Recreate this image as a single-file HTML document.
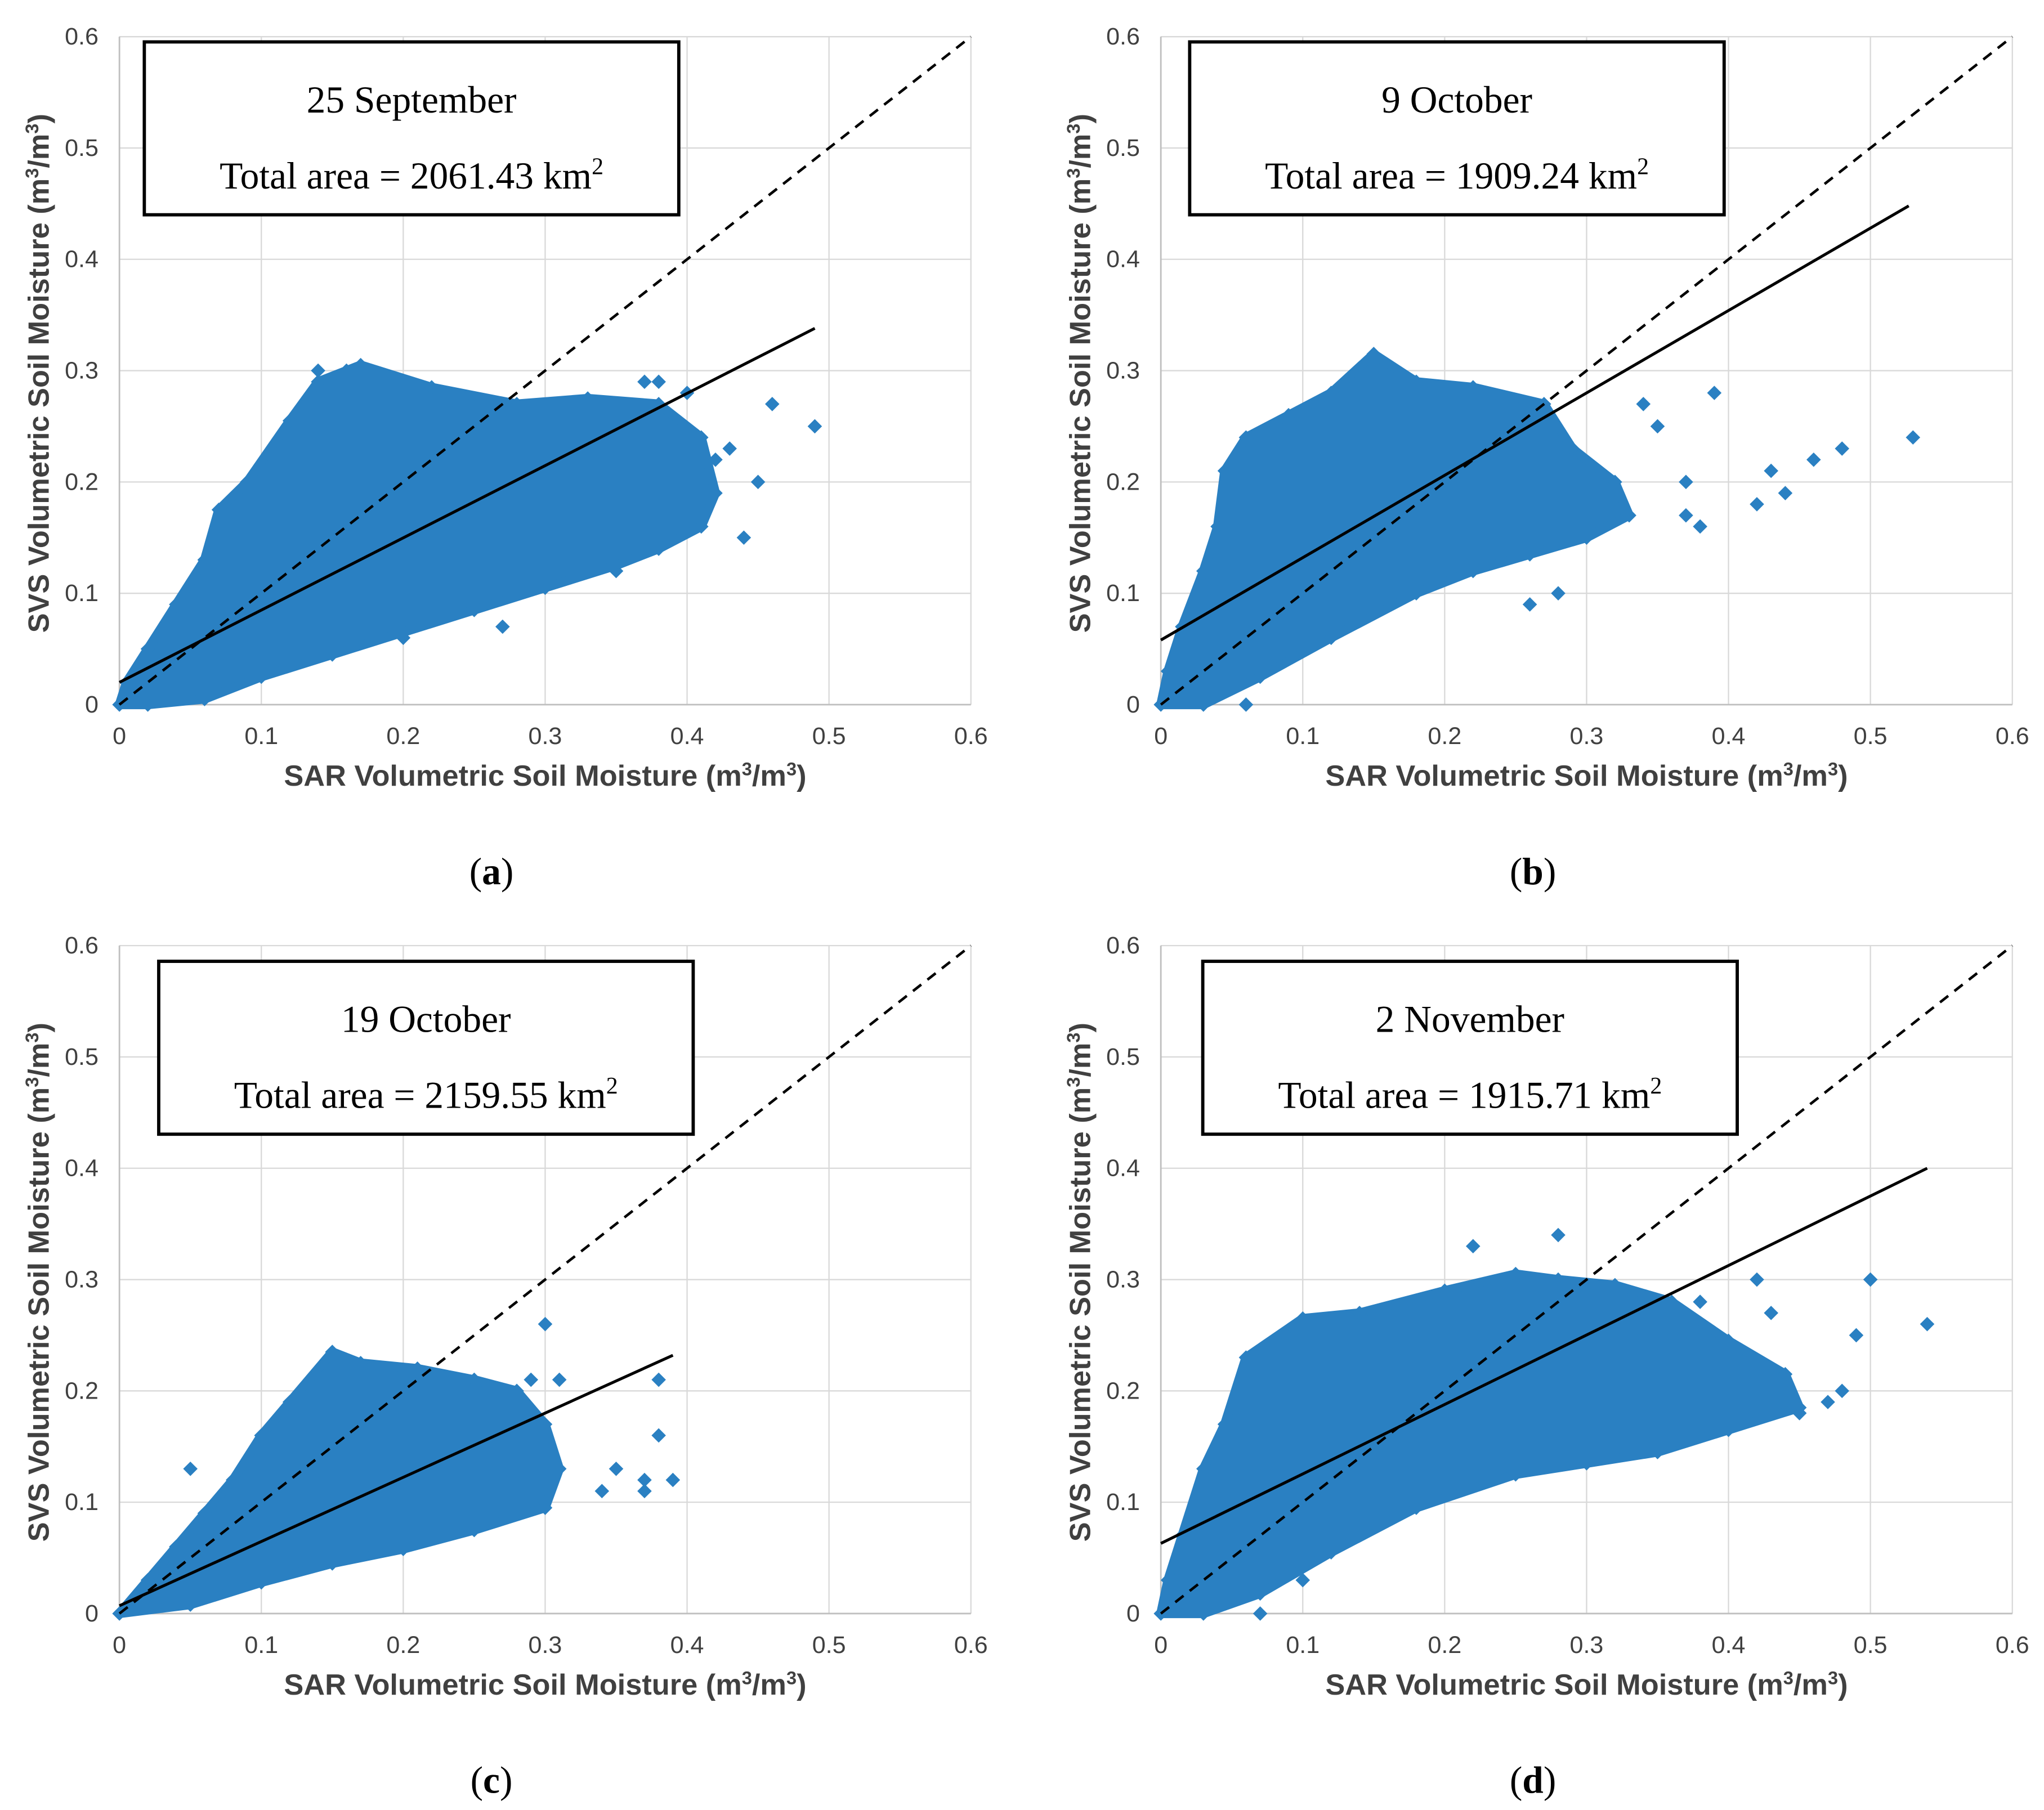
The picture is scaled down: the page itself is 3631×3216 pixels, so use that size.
<!DOCTYPE html>
<html><head><meta charset="utf-8"><style>
html,body{margin:0;padding:0;background:#fff;}
svg{display:block;}
</style></head><body>
<svg id="fig" width="3631" height="3216" viewBox="0 0 1560 1382" xmlns="http://www.w3.org/2000/svg"></svg>
<script>
const ticks = [0,0.1,0.2,0.3,0.4,0.5,0.6];
const tickLabels = ["0","0.1","0.2","0.3","0.4","0.5","0.6"];
const panelIds = ["a","b","c","d"];
const panelDates = ["25 September","9 October","19 October","2 November"];
const panelAreas = ["2061.43","1909.24","2159.55","1915.71"];
const fitA = [[0,0.02],[0.49,0.338]];
const fitB = [[0,0.058],[0.527,0.448]];
const fitC = [[0,0.007],[0.39,0.232]];
const fitD = [[0,0.063],[0.54,0.4]];
const cloudA = [[0,0],[0.02,0],[0.06,0.005],[0.1,0.025],[0.15,0.045],[0.2,0.065],[0.25,0.085],[0.3,0.105],[0.35,0.125],[0.38,0.14],[0.41,0.16],[0.42,0.19],[0.41,0.24],[0.38,0.27],[0.33,0.275],[0.28,0.27],[0.22,0.285],[0.17,0.305],[0.14,0.29],[0.12,0.255],[0.09,0.2],[0.07,0.175],[0.06,0.13],[0.04,0.09],[0.02,0.05],[0.005,0.02]];
const cloudB = [[0,0],[0.03,0],[0.07,0.025],[0.12,0.06],[0.18,0.1],[0.22,0.12],[0.26,0.135],[0.3,0.15],[0.33,0.17],[0.32,0.2],[0.29,0.23],[0.27,0.27],[0.22,0.285],[0.18,0.29],[0.15,0.315],[0.12,0.28],[0.09,0.26],[0.06,0.24],[0.045,0.21],[0.04,0.16],[0.03,0.12],[0.015,0.07],[0.005,0.03]];
const cloudC = [[0,0],[0.05,0.008],[0.1,0.028],[0.15,0.045],[0.2,0.058],[0.25,0.075],[0.3,0.095],[0.31,0.13],[0.3,0.17],[0.28,0.2],[0.25,0.21],[0.21,0.22],[0.17,0.225],[0.15,0.235],[0.12,0.19],[0.1,0.16],[0.08,0.12],[0.06,0.09],[0.04,0.06],[0.02,0.03]];
const cloudD = [[0,0],[0.03,0],[0.07,0.018],[0.12,0.055],[0.18,0.095],[0.25,0.125],[0.3,0.135],[0.35,0.145],[0.4,0.165],[0.45,0.185],[0.44,0.215],[0.4,0.245],[0.36,0.28],[0.32,0.295],[0.28,0.3],[0.25,0.305],[0.2,0.29],[0.14,0.27],[0.1,0.265],[0.06,0.23],[0.045,0.17],[0.03,0.13],[0.015,0.07],[0.005,0.03]];
const outA = [[0.44,0.15],[0.46,0.27],[0.49,0.25],[0.45,0.2],[0.43,0.23],[0.38,0.29],[0.27,0.07],[0.2,0.06],[0.35,0.12],[0.37,0.29],[0.4,0.28],[0.42,0.22],[0.16,0.3],[0.14,0.3]];
const outB = [[0.35,0.25],[0.37,0.2],[0.38,0.16],[0.39,0.28],[0.42,0.18],[0.44,0.19],[0.46,0.22],[0.48,0.23],[0.53,0.24],[0.43,0.21],[0.28,0.1],[0.26,0.09],[0.06,0],[0.37,0.17],[0.34,0.27],[0.3,0.21],[0.32,0.19]];
const outC = [[0.3,0.26],[0.31,0.21],[0.35,0.13],[0.37,0.12],[0.38,0.21],[0.38,0.16],[0.39,0.12],[0.37,0.11],[0.34,0.11],[0.05,0.13],[0.29,0.21]];
const outD = [[0.5,0.3],[0.54,0.26],[0.49,0.25],[0.48,0.2],[0.28,0.34],[0.22,0.33],[0.07,0],[0.1,0.03],[0.42,0.3],[0.45,0.18],[0.47,0.19],[0.43,0.27],[0.38,0.28]];
const fits=[fitA,fitB,fitC,fitD], clouds=[cloudA,cloudB,cloudC,cloudD], outs=[outA,outB,outC,outD];
const origins=[[91,538],[886,538],[91,1232],[886,1232]];
const boxes=[[110,32],[908,32],[121,734],[918,734]];
const NS="http://www.w3.org/2000/svg";
const svg=document.getElementById('fig');
function mk(tag,attrs,parent){const e=document.createElementNS(NS,tag);for(const k in attrs)e.setAttribute(k,attrs[k]);(parent||svg).appendChild(e);return e;}
const W=650,H=510,MAX=0.6;
const BLUE="#2a80c2";
panelIds.forEach((id,i)=>{
  const [ox,oy]=origins[i];
  const sx=v=>ox+v/MAX*W, sy=v=>oy-v/MAX*H;
  const g=mk('g',{});
  
  
  ticks.forEach((t,k)=>{
    if(k>0){
      const gv=mk('line',{x1:sx(t),y1:sy(0),x2:sx(t),y2:sy(MAX),stroke:'#d9d9d9','stroke-width':1},g);
      
      
      const gh=mk('line',{x1:sx(0),y1:sy(t),x2:sx(MAX),y2:sy(t),stroke:'#d9d9d9','stroke-width':1},g);
      
      
    }
    const tx=mk('text',{x:sx(t),y:oy+30,'text-anchor':'middle','font-family':'Liberation Sans, sans-serif','font-size':18.5,fill:'#404040'},g);
    tx.textContent=tickLabels[k];
    
    
    const ty=mk('text',{x:ox-16,y:sy(t)+6,'text-anchor':'end','font-family':'Liberation Sans, sans-serif','font-size':18.5,fill:'#404040'},g);
    ty.textContent=tickLabels[k];
    
    
  });
  const ax=mk('path',{d:`M${sx(0)},${sy(MAX)}V${sy(0)}H${sx(MAX)}`,fill:'none',stroke:'#bfbfbf','stroke-width':1.2},g);
  
  
  const cl=mk('polygon',{points:clouds[i].map(p=>sx(p[0])+','+sy(p[1])).join(' '),fill:BLUE,stroke:BLUE,'stroke-width':7,'stroke-linejoin':'round'},g);
  
  
  clouds[i].concat(outs[i]).forEach(p=>{
    const x=sx(p[0]),y=sy(p[1]),r=5.5;
    const d=mk('polygon',{points:`${x},${y-r} ${x+r},${y} ${x},${y+r} ${x-r},${y}`,fill:BLUE},g);
    
    
  });
  const one=mk('line',{x1:sx(0),y1:sy(0),x2:sx(MAX),y2:sy(MAX),stroke:'#000','stroke-width':2,'stroke-dasharray':'8,6'},g);
  
  
  const f=fits[i];
  const fl=mk('line',{x1:sx(f[0][0]),y1:sy(f[0][1]),x2:sx(f[1][0]),y2:sy(f[1][1]),stroke:'#000','stroke-width':2.2},g);
  
  
  const xt=mk('text',{x:ox+325,y:oy+62,'text-anchor':'middle','font-family':'Liberation Sans, sans-serif','font-size':22.5,'font-weight':'bold',fill:'#404040'},g);
  xt.innerHTML='SAR Volumetric Soil Moisture (m<tspan dy="-8" font-size="14">3</tspan><tspan dy="8">/m</tspan><tspan dy="-8" font-size="14">3</tspan><tspan dy="8">)</tspan>';
  
  
  const yt=mk('text',{x:0,y:0,transform:`translate(${ox-54},${oy-253}) rotate(-90)`,'text-anchor':'middle','font-family':'Liberation Sans, sans-serif','font-size':22.5,'font-weight':'bold',fill:'#404040'},g);
  yt.innerHTML='SVS Volumetric Soil Moisture (m<tspan dy="-8" font-size="14">3</tspan><tspan dy="8">/m</tspan><tspan dy="-8" font-size="14">3</tspan><tspan dy="8">)</tspan>';
  
  
  const [bx,by]=boxes[i];
  const bg=mk('g',{},g);
  
  
  mk('rect',{x:bx,y:by,width:408,height:132,fill:'#fff',stroke:'#000','stroke-width':2.5},bg);
  const t1=mk('text',{x:bx+204,y:by+54,'text-anchor':'middle','font-family':'Liberation Serif, serif','font-size':29},bg);
  t1.textContent=panelDates[i];
  
  
  const t2=mk('text',{x:bx+204,y:by+112,'text-anchor':'middle','font-family':'Liberation Serif, serif','font-size':29},bg);
  t2.innerHTML='Total area = '+panelAreas[i]+' km<tspan dy="-11" font-size="18">2</tspan>';
  
  
  const pl=mk('text',{x:ox+284,y:oy+137,'text-anchor':'middle','font-family':'Liberation Serif, serif','font-size':29},g);
  pl.innerHTML='(<tspan font-weight="bold">'+id+'</tspan>)';
  
  
});
</script>
</body></html>
